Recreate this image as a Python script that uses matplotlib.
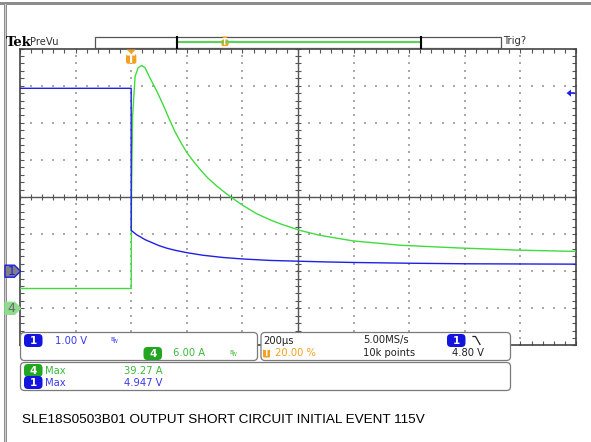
import numpy as np
import matplotlib.pyplot as plt
from matplotlib.patches import FancyBboxPatch, Polygon, Rectangle

# ---- scope settings ----
t_div = 200.0          # us / div
trig_pct = 20.0
ch1_scale = 1.00       # V / div
ch1_pos = -2.0         # div
ch4_scale = 6.00       # A / div
ch4_pos = -3.0         # div
trig_level = 4.80

# ---- waveforms ----
t1 = [-400, -0.1, 0, 10, 20, 32, 50, 78, 100, 128, 160, 200, 258, 330, 400, 500, 600,
      700, 800, 1000, 1200, 1400, 1600]
v1 = [4.93, 4.93, 1.10, 1.04, 0.98, 0.93, 0.85, 0.76, 0.69, 0.62, 0.56, 0.50, 0.43, 0.37,
      0.33, 0.29, 0.27, 0.25, 0.235, 0.215, 0.20, 0.195, 0.19]

t4 = [-400, -0.1, 0, 1, 5, 14, 25, 38, 50, 68, 90, 115, 135, 157, 180, 200, 225, 247, 275,
      307, 335, 361, 400, 451, 500, 540, 607, 679, 798, 967, 1183, 1398, 1600]
a4 = [3.2, 3.2, 3.2, 18, 31, 37.5, 38.9, 39.27, 38.9, 37.2, 35.3, 32.9, 30.8, 28.6, 26.7,
      25.2, 23.7, 22.5, 21.1, 19.8, 18.8, 17.9, 16.7, 15.3, 14.3, 13.6, 12.6, 11.8, 10.9,
      10.2, 9.75, 9.4, 9.2]

caption = "SLE18S0503B01 OUTPUT SHORT CIRCUIT INITIAL EVENT 115V"

BLUE = '#1f1fe6'
GREEN = '#3fdc3f'
GTXT = '#3cb83c'
BTXT = '#3a3aea'
ORANGE = '#f5a020'
GRID = '#555555'

W, H = 591, 442
fig = plt.figure(figsize=(W / 100, H / 100), dpi=100)
fig.patch.set_facecolor('white')

# graticule area in pixels
gx0, gx1, gy0, gy1 = 20, 576, 48.6, 345.4
t0 = -trig_pct / 100 * 10 * t_div
ax = fig.add_axes([gx0 / W, 1 - gy1 / H, (gx1 - gx0) / W, (gy1 - gy0) / H])
ax.set_xlim(t0, t0 + 10 * t_div)
ax.set_ylim(-4, 4)
ax.set_facecolor('white')

sub_x = np.arange(t0, t0 + 10 * t_div + 1, t_div / 5)
sub_y = np.arange(-4, 4.01, 0.2)
ax.set_xticks(sub_x)
ax.set_yticks(sub_y)
ax.tick_params(direction='in', length=3, width=0.8, color=GRID, top=True, right=True,
               labelbottom=False, labelleft=False)
for s in ax.spines.values():
    s.set_color('#444444')
    s.set_linewidth(1.2)

# dotted grid
for k in range(1, 10):
    if k == 5:
        continue
    xv = t0 + k * t_div
    ax.scatter(np.full(len(sub_y), xv), sub_y, s=1.0, marker='s', color='#aaaaaa', lw=0, zorder=1)
for k in range(-3, 4):
    if k == 0:
        continue
    ax.scatter(sub_x, np.full(len(sub_x), k), s=1.0, marker='s', color='#aaaaaa', lw=0, zorder=1)

# centre cross with ticks
xc = t0 + 5 * t_div
ax.axhline(0, color=GRID, lw=1.0, zorder=1)
ax.axvline(xc, color=GRID, lw=1.0, zorder=1)
ax.plot(sub_x, np.zeros(len(sub_x)), ls='none', marker='|', ms=5, mew=0.8, color=GRID, zorder=1)
ax.plot(np.full(len(sub_y), xc), sub_y, ls='none', marker='_', ms=5, mew=0.8, color=GRID, zorder=1)

# traces
ax.plot(t4, np.array(a4) / ch4_scale + ch4_pos, color=GREEN, lw=1.0, zorder=3)
ax.plot(t1, np.array(v1) / ch1_scale + ch1_pos, color=BLUE, lw=1.0, zorder=4)

# ---- overlay in pixel coordinates ----
ov = fig.add_axes([0, 0, 1, 1], zorder=5)
ov.set_xlim(0, W)
ov.set_ylim(H, 0)
ov.axis('off')
ov.patch.set_alpha(0)

# outer screen frame
ov.add_patch(Rectangle((0, 2), W, 3, color='#8c8c8c', lw=0))
ov.add_patch(Rectangle((3.5, 2), 3.5, H, color='#8c8c8c', lw=0))
ov.add_patch(Rectangle((4.5, 4), 1.2, H, color='#d0d0d0', lw=0))

font = 'DejaVu Sans'
fs = 7.2


def txt(x, y, s, c='#222222', size=fs, **kw):
    ov.text(x, y, s, color=c, fontsize=size, family=font, va='center', ha='left', **kw)


def pill(x, y, label, fc, w=18.5, h=8):
    ov.add_patch(FancyBboxPatch((x + 3.5, y - h / 2 + 1), w - 7, h - 2,
                                boxstyle='round,pad=3.5,rounding_size=4', fc=fc, ec='none'))
    ov.text(x + w / 2, y + 0.3, label, color='white', fontsize=7.5, family=font,
            ha='center', va='center', fontweight='bold')


def tmark(x, y, size=1.0):
    ov.add_patch(Polygon([[x - 3.5 * size, y], [x + 3.5 * size, y], [x, y + 3.5 * size]],
                         closed=True, fc=ORANGE, ec='none'))
    ov.add_patch(FancyBboxPatch((x - 3.5 * size, y + 4 * size), 7 * size, 6.5 * size,
                                boxstyle='round,pad=0.6,rounding_size=2', fc=ORANGE, ec='none'))
    ov.text(x, y + 7.4 * size, 'T', color='white', fontsize=6.5 * size, family=font,
            ha='center', va='center', fontweight='bold')


# top bar
ov.text(6, 42.5, 'Tek', fontsize=9.5, family='DejaVu Serif', fontweight='bold',
        va='center', ha='left', color='black')
txt(30, 42, 'PreVu', c='#333333', size=7.2)
ov.add_patch(Rectangle((95, 36.5), 406, 11, fc='white', ec='#555555', lw=0.9))
ov.plot([177, 421], [41.5, 41.5], color='#5ccf5c', lw=1.6)
ov.plot([177, 177], [36.5, 47.5], color='black', lw=1.5)
ov.plot([421, 421], [36.5, 47.5], color='black', lw=1.5)
tmark(225, 36.6, size=0.85)
txt(503, 41.5, 'Trig?', c='#333333')

# trigger position marker above graticule
xpix_trig = gx0 + (0 - t0) / (10 * t_div) * (gx1 - gx0)
tmark(xpix_trig, 49.5, size=1.3)

# trigger level arrow (right side)
ylvl = gy0 + (4 - (trig_level / ch1_scale + ch1_pos)) / 8 * (gy1 - gy0)
ov.add_patch(Polygon([[566.5, ylvl], [571, ylvl - 3.5], [571, ylvl + 3.5]], closed=True,
                     fc=BLUE, ec='none'))
ov.plot([570, 574], [ylvl, ylvl], color=BLUE, lw=1.2)


# channel ground markers on the left
def chmark(pos, label, fc, ec, tc):
    yy = gy0 + (4 - pos) / 8 * (gy1 - gy0)
    ov.add_patch(Polygon([[5, yy - 6], [14.5, yy - 6], [20.5, yy], [14.5, yy + 6], [5, yy + 6]],
                         closed=True, fc=fc, ec=ec, lw=1.0, zorder=6))
    ov.text(11.5, yy + 0.5, label, color=tc, fontsize=9, family=font, ha='center', va='center', zorder=7)


chmark(ch1_pos, '1', '#808080', BLUE, BLUE)
chmark(ch4_pos, '4', '#8fdc8f', '#8fdc8f', '#6a6a6a')


# info boxes
def box(x0, y0, x1, y1):
    ov.add_patch(FancyBboxPatch((x0 + 3, y0 + 3), x1 - x0 - 6, y1 - y0 - 6,
                                boxstyle='round,pad=3,rounding_size=4', fc='white',
                                ec='#7a7a7a', lw=0.9))


box(20.5, 332.5, 257.5, 360.5)
box(261, 332.5, 510.5, 360.5)
box(20.5, 362.5, 510.5, 390.5)

r1, r2 = 340.5, 353.5
pill(24, r1, '1', '#1414e0')
txt(55, r1, '%.2f V' % ch1_scale, c=BTXT)
txt(110, r1 - 1, 'B', c=BTXT, size=4.5)
txt(113, r1 + 1, 'W', c=BTXT, size=3.5)
pill(143.5, r2, '4', '#22a622')
txt(173, r2, '%.2f A' % ch4_scale, c=GTXT)
txt(229, r2 - 1, 'B', c=GTXT, size=4.5)
txt(232, r2 + 1, 'W', c=GTXT, size=3.5)

txt(263, r1, '%dµs' % t_div)
txt(363, r1, '5.00MS/s')
pill(447, r1, '1', '#1414e0')
ov.plot([473, 475.5, 480], [336.5, 336.5, 344.5], color='#222222', lw=0.9)
ov.add_patch(FancyBboxPatch((263.5, r2 - 3.5), 6, 7, boxstyle='round,pad=0.5,rounding_size=1',
                            fc=ORANGE, ec='none'))
ov.text(266.5, r2, 'T', color='white', fontsize=5.5, family=font, ha='center', va='center',
        fontweight='bold')
txt(275, r2, '%.2f %%' % trig_pct, c=ORANGE)
txt(363, r2, '10k points')
txt(452, r2, '%.2f V' % trig_level)

r3, r4 = 370.5, 382.5
pill(24, r3, '4', '#22a622')
txt(45.5, r3, 'Max', c=GTXT)
txt(124.5, r3, '%.2f A' % max(a4), c=GTXT)
pill(24, r4, '1', '#1414e0')
txt(45.5, r4, 'Max', c=BTXT)
txt(124.5, r4, '4.947 V', c=BTXT)

ov.text(22, 420, caption, fontsize=9.7, family='Liberation Sans', color='black',
        va='center', ha='left')

fig.savefig('out.png', dpi=100)
